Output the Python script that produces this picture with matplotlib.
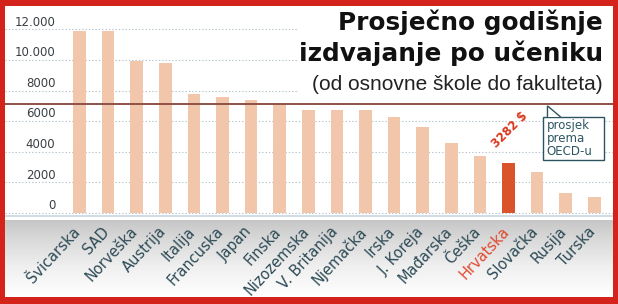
import matplotlib
matplotlib.use("Agg")
import matplotlib.pyplot as plt
import matplotlib.transforms as mtrans
import numpy as np
from matplotlib.patches import Rectangle, Polygon

countries = ['Švicarska', 'SAD', 'Norveška', 'Austrija', 'Italija', 'Francuska',
             'Japan', 'Finska', 'Nizozemska', 'V. Britanija', 'Njemačka', 'Irska',
             'J. Koreja', 'Mađarska', 'Češka', 'Hrvatska', 'Slovačka', 'Rusija', 'Turska']
spending = [11900, 11900, 9950, 9800, 7800, 7550, 7400, 7100, 6750, 6750, 6700,
            6250, 5600, 4600, 3700, 3282, 2700, 1300, 1050]
oecd_avg = 7100
yticks = [0, 2000, 4000, 6000, 8000, 10000, 12000]
ytick_labels = ['0', '2000', '4000', '6000', '8000', '10.000', '12.000']
highlight = 'Hrvatska'

W, H = 618, 304
fig = plt.figure(figsize=(W / 100, H / 100), dpi=100)
fig.patch.set_facecolor('#d4231a')

def px_axes(x0, y0, x1, y1, **kw):
    # pixel box (top-left origin) -> figure axes
    return fig.add_axes([x0 / W, 1 - y1 / H, (x1 - x0) / W, (y1 - y0) / H], **kw)

# white panel inside the red frame
panel = px_axes(5, 6, 613, 297)
panel.set_facecolor('white')
panel.set_xticks([]); panel.set_yticks([])
for s in panel.spines.values():
    s.set_visible(False)

# grey gradient band under the bars
band = px_axes(5, 220, 613, 297)
grad = np.linspace(0, 1, 100).reshape(-1, 1)
band.imshow(grad, aspect='auto', cmap='Greys_r', vmin=-2.0, vmax=1.0, extent=[0, 1, 0, 1])
band.axis('off')

# main chart
ax = px_axes(5, 6, 613, 218)
ax.set_facecolor('none')
x = np.arange(len(countries))
colors = ['#d9532b' if c == highlight else '#f1c6ab' for c in countries]
ax.bar(x, spending, width=0.44, color=colors, zorder=3)
ax.set_xlim(-2.6, 18.65)
ax.set_ylim(-330, 13530)

for t, lab in zip(yticks, ytick_labels):
    ax.axhline(t, color='#b4c2cc', lw=0.8, ls=(0, (1.2, 1.8)), zorder=1)
    ax.text(-0.84, t + 470, lab, ha='right', va='center', fontsize=8.5,
            color='#3a3f44', zorder=4)
ax.axhline(-180, color='#c9d6e0', lw=1.2, zorder=2)

ax.axhline(oecd_avg, color='#8e5148', lw=1.4, zorder=5)

for s in ax.spines.values():
    s.set_visible(False)
ax.set_yticks([])
ax.set_xticks(x)
ax.set_xticklabels(countries, rotation=47, ha='right', va='top',
                   rotation_mode='anchor', fontsize=10.5)
ax.tick_params(axis='x', length=0, pad=5)
shift = mtrans.ScaledTranslation(-0.07, 0.01, fig.dpi_scale_trans)
for lab in ax.get_xticklabels():
    lab.set_color('#e04a30' if lab.get_text() == highlight else '#2d4b56')
    lab.set_transform(lab.get_transform() + shift)

# title block
tb = ax.transAxes
ax.add_patch(Rectangle((0.483, 0.52), 0.52, 0.48, transform=tb, color='white', zorder=2))
ax.text(0.983, 0.887, 'Prosječno godišnje', transform=tb, ha='right', va='baseline',
        fontsize=17.8, fontweight='bold', color='#111111', zorder=6)
ax.text(0.983, 0.741, 'izdvajanje po učeniku', transform=tb, ha='right', va='baseline',
        fontsize=17.8, fontweight='bold', color='#111111', zorder=6)
ax.text(0.983, 0.604, '(od osnovne škole do fakulteta)', transform=tb, ha='right',
        va='baseline', fontsize=15, family=['Liberation Sans', 'DejaVu Sans'],
        color='#222222', zorder=6)

# value label for Croatia
hi = countries.index(highlight)
ax.text(hi + 0.05, spending[hi] + 2150, '3282 $', rotation=45, ha='center', va='center',
        fontsize=8.5, fontweight='bold', color='#d9381e', zorder=6)

# callout box
bx0, bx1 = 16.19, 18.32
ax.add_patch(Rectangle((bx0, 3465), bx1 - bx0, 2810, facecolor='white',
                       edgecolor='#2d5561', lw=1, zorder=6))
ax.add_patch(Polygon([[16.36, 6275], [16.36, 7000], [16.82, 6275]], closed=False,
                     facecolor='white', edgecolor='#2d5561', lw=1, zorder=7))
ax.text(bx0 + 0.14, 4870, 'prosjek\nprema\nOECD-u', ha='left', va='center',
        fontsize=8.5, color='#2d5561', linespacing=1.0, zorder=8)

fig.savefig('out.png', dpi=100, facecolor=fig.get_facecolor())
